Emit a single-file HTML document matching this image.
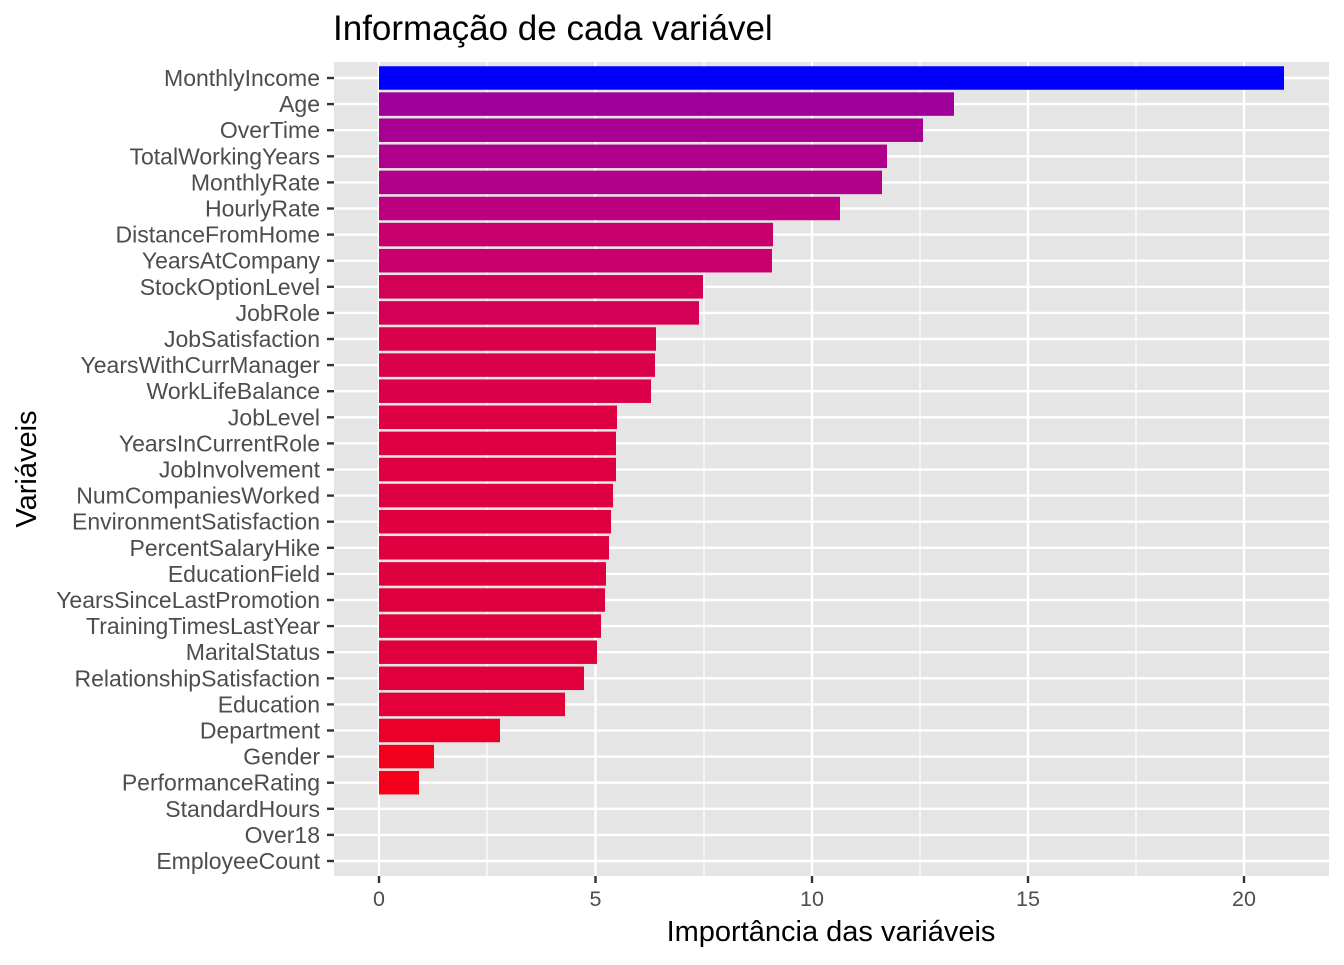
<!DOCTYPE html><html><head><style>body{margin:0;background:#fff}</style></head><body>
<svg width="1344" height="960" xmlns="http://www.w3.org/2000/svg" font-family="Liberation Sans, Arial, sans-serif">
<rect x="334" y="62" width="995" height="814" fill="#e5e5e5"/>
<g stroke="#fff" stroke-width="1.2">
<line x1="487" y1="62" x2="487" y2="876"/><line x1="704" y1="62" x2="704" y2="876"/><line x1="920" y1="62" x2="920" y2="876"/><line x1="1136" y1="62" x2="1136" y2="876"/>
</g>
<g stroke="#fff" stroke-width="2.4">
<line x1="379" y1="62" x2="379" y2="876"/><line x1="595.5" y1="62" x2="595.5" y2="876"/><line x1="812" y1="62" x2="812" y2="876"/><line x1="1028" y1="62" x2="1028" y2="876"/><line x1="1244" y1="62" x2="1244" y2="876"/>
<line x1="334" x2="1329" y1="78" y2="78"/><line x1="334" x2="1329" y1="104.1" y2="104.1"/><line x1="334" x2="1329" y1="130.2" y2="130.2"/><line x1="334" x2="1329" y1="156.3" y2="156.3"/><line x1="334" x2="1329" y1="182.4" y2="182.4"/><line x1="334" x2="1329" y1="208.5" y2="208.5"/><line x1="334" x2="1329" y1="234.6" y2="234.6"/><line x1="334" x2="1329" y1="260.7" y2="260.7"/><line x1="334" x2="1329" y1="286.8" y2="286.8"/><line x1="334" x2="1329" y1="312.9" y2="312.9"/><line x1="334" x2="1329" y1="339" y2="339"/><line x1="334" x2="1329" y1="365.1" y2="365.1"/><line x1="334" x2="1329" y1="391.2" y2="391.2"/><line x1="334" x2="1329" y1="417.3" y2="417.3"/><line x1="334" x2="1329" y1="443.4" y2="443.4"/><line x1="334" x2="1329" y1="469.5" y2="469.5"/><line x1="334" x2="1329" y1="495.6" y2="495.6"/><line x1="334" x2="1329" y1="521.7" y2="521.7"/><line x1="334" x2="1329" y1="547.8" y2="547.8"/><line x1="334" x2="1329" y1="573.9" y2="573.9"/><line x1="334" x2="1329" y1="600" y2="600"/><line x1="334" x2="1329" y1="626.1" y2="626.1"/><line x1="334" x2="1329" y1="652.2" y2="652.2"/><line x1="334" x2="1329" y1="678.3" y2="678.3"/><line x1="334" x2="1329" y1="704.4" y2="704.4"/><line x1="334" x2="1329" y1="730.5" y2="730.5"/><line x1="334" x2="1329" y1="756.6" y2="756.6"/><line x1="334" x2="1329" y1="782.7" y2="782.7"/><line x1="334" x2="1329" y1="808.8" y2="808.8"/><line x1="334" x2="1329" y1="834.9" y2="834.9"/><line x1="334" x2="1329" y1="861" y2="861"/>
</g>
<g>
<rect x="379" y="66.25" width="905" height="23.5" fill="rgb(0,0,255)"/>
<rect x="379" y="92.35" width="575" height="23.5" fill="rgb(160,0,154)"/>
<rect x="379" y="118.45" width="544" height="23.5" fill="rgb(168,0,146)"/>
<rect x="379" y="144.55" width="508" height="23.5" fill="rgb(175,0,139)"/>
<rect x="379" y="170.65" width="503" height="23.5" fill="rgb(177,0,137)"/>
<rect x="379" y="196.75" width="461" height="23.5" fill="rgb(189,0,128)"/>
<rect x="379" y="222.85" width="394" height="23.5" fill="rgb(199,0,108)"/>
<rect x="379" y="248.95" width="393" height="23.5" fill="rgb(199,0,108)"/>
<rect x="379" y="275.05" width="324" height="23.5" fill="rgb(212,0,86)"/>
<rect x="379" y="301.15" width="320" height="23.5" fill="rgb(213,0,85)"/>
<rect x="379" y="327.25" width="277" height="23.5" fill="rgb(218,0,75)"/>
<rect x="379" y="353.35" width="276" height="23.5" fill="rgb(218,0,75)"/>
<rect x="379" y="379.45" width="272" height="23.5" fill="rgb(219,0,74)"/>
<rect x="379" y="405.55" width="238" height="23.5" fill="rgb(222,0,67)"/>
<rect x="379" y="431.65" width="237" height="23.5" fill="rgb(222,0,67)"/>
<rect x="379" y="457.75" width="237" height="23.5" fill="rgb(222,0,67)"/>
<rect x="379" y="483.85" width="234" height="23.5" fill="rgb(222,0,66)"/>
<rect x="379" y="509.95" width="232" height="23.5" fill="rgb(223,0,65)"/>
<rect x="379" y="536.05" width="230" height="23.5" fill="rgb(223,0,65)"/>
<rect x="379" y="562.15" width="227" height="23.5" fill="rgb(223,0,64)"/>
<rect x="379" y="588.25" width="226" height="23.5" fill="rgb(223,0,64)"/>
<rect x="379" y="614.35" width="222" height="23.5" fill="rgb(224,0,63)"/>
<rect x="379" y="640.45" width="218" height="23.5" fill="rgb(224,0,62)"/>
<rect x="379" y="666.55" width="205" height="23.5" fill="rgb(225,0,60)"/>
<rect x="379" y="692.65" width="186" height="23.5" fill="rgb(228,0,56)"/>
<rect x="379" y="718.75" width="121" height="23.5" fill="rgb(235,0,43)"/>
<rect x="379" y="744.85" width="55" height="23.5" fill="rgb(243,0,29)"/>
<rect x="379" y="770.95" width="40" height="23.5" fill="rgb(245,0,26)"/>
</g>
<g font-size="23" fill="#4d4d4d" text-anchor="end">
<text x="320" y="86">MonthlyIncome</text><text x="320" y="112.1">Age</text><text x="320" y="138.2">OverTime</text><text x="320" y="164.3">TotalWorkingYears</text><text x="320" y="190.4">MonthlyRate</text><text x="320" y="216.5">HourlyRate</text><text x="320" y="242.6">DistanceFromHome</text><text x="320" y="268.7">YearsAtCompany</text><text x="320" y="294.8">StockOptionLevel</text><text x="320" y="320.9">JobRole</text><text x="320" y="347">JobSatisfaction</text><text x="320" y="373.1">YearsWithCurrManager</text><text x="320" y="399.2">WorkLifeBalance</text><text x="320" y="425.3">JobLevel</text><text x="320" y="451.4">YearsInCurrentRole</text><text x="320" y="477.5">JobInvolvement</text><text x="320" y="503.6">NumCompaniesWorked</text><text x="320" y="529.7">EnvironmentSatisfaction</text><text x="320" y="555.8">PercentSalaryHike</text><text x="320" y="581.9">EducationField</text><text x="320" y="608">YearsSinceLastPromotion</text><text x="320" y="634.1">TrainingTimesLastYear</text><text x="320" y="660.2">MaritalStatus</text><text x="320" y="686.3">RelationshipSatisfaction</text><text x="320" y="712.4">Education</text><text x="320" y="738.5">Department</text><text x="320" y="764.6">Gender</text><text x="320" y="790.7">PerformanceRating</text><text x="320" y="816.8">StandardHours</text><text x="320" y="842.9">Over18</text><text x="320" y="869">EmployeeCount</text>
</g>
<g stroke="#333" stroke-width="2.4">
<line x1="327" x2="334" y1="78" y2="78"/><line x1="327" x2="334" y1="104.1" y2="104.1"/><line x1="327" x2="334" y1="130.2" y2="130.2"/><line x1="327" x2="334" y1="156.3" y2="156.3"/><line x1="327" x2="334" y1="182.4" y2="182.4"/><line x1="327" x2="334" y1="208.5" y2="208.5"/><line x1="327" x2="334" y1="234.6" y2="234.6"/><line x1="327" x2="334" y1="260.7" y2="260.7"/><line x1="327" x2="334" y1="286.8" y2="286.8"/><line x1="327" x2="334" y1="312.9" y2="312.9"/><line x1="327" x2="334" y1="339" y2="339"/><line x1="327" x2="334" y1="365.1" y2="365.1"/><line x1="327" x2="334" y1="391.2" y2="391.2"/><line x1="327" x2="334" y1="417.3" y2="417.3"/><line x1="327" x2="334" y1="443.4" y2="443.4"/><line x1="327" x2="334" y1="469.5" y2="469.5"/><line x1="327" x2="334" y1="495.6" y2="495.6"/><line x1="327" x2="334" y1="521.7" y2="521.7"/><line x1="327" x2="334" y1="547.8" y2="547.8"/><line x1="327" x2="334" y1="573.9" y2="573.9"/><line x1="327" x2="334" y1="600" y2="600"/><line x1="327" x2="334" y1="626.1" y2="626.1"/><line x1="327" x2="334" y1="652.2" y2="652.2"/><line x1="327" x2="334" y1="678.3" y2="678.3"/><line x1="327" x2="334" y1="704.4" y2="704.4"/><line x1="327" x2="334" y1="730.5" y2="730.5"/><line x1="327" x2="334" y1="756.6" y2="756.6"/><line x1="327" x2="334" y1="782.7" y2="782.7"/><line x1="327" x2="334" y1="808.8" y2="808.8"/><line x1="327" x2="334" y1="834.9" y2="834.9"/><line x1="327" x2="334" y1="861" y2="861"/>
<line x1="379" y1="876" x2="379" y2="883"/><line x1="595.5" y1="876" x2="595.5" y2="883"/><line x1="812" y1="876" x2="812" y2="883"/><line x1="1028" y1="876" x2="1028" y2="883"/><line x1="1244" y1="876" x2="1244" y2="883"/>
</g>
<g font-size="21.5" fill="#4d4d4d" text-anchor="middle">
<text x="379" y="906">0</text><text x="595.5" y="906">5</text><text x="812" y="906">10</text><text x="1028" y="906">15</text><text x="1244" y="906">20</text>
</g>
<text x="831" y="941" font-size="29" text-anchor="middle">Importância das variáveis</text>
<text transform="translate(36,469) rotate(-90)" font-size="29" text-anchor="middle">Variáveis</text>
<text x="333" y="40" font-size="35">Informação de cada variável</text>
</svg></body></html>
